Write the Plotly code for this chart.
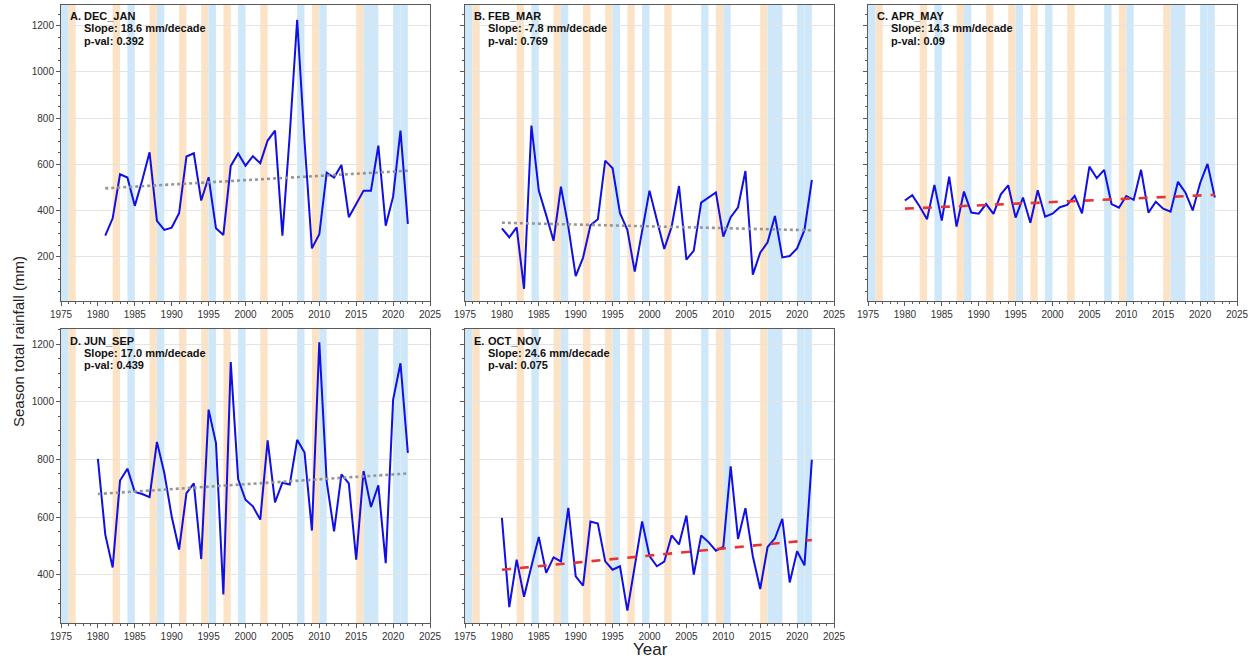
import plotly.graph_objects as go
from plotly.subplots import make_subplots

# ---------------- data ----------------
years_dj = list(range(1981, 2023))
years_all = list(range(1980, 2023))

dec_jan = [291, 366, 557, 543, 420, 530, 652, 355, 316, 326, 388, 634, 648, 443,
           544, 323, 294, 593, 647, 594, 635, 605, 703, 746, 291, 730, 1226, 700,
           236, 297, 564, 543, 597, 371, 428, 486, 486, 681, 334, 460, 746, 342]

feb_mar = [323, 284, 327, 61, 768, 486, 380, 269, 503, 330, 116, 196, 336, 362,
           616, 583, 388, 316, 135, 316, 486, 359, 233, 330, 506, 187, 226, 434,
           456, 478, 287, 371, 414, 571, 122, 217, 262, 376, 197, 203, 236, 316, 532]

apr_may = [443, 466, 417, 362, 511, 356, 547, 330, 482, 391, 386, 428, 385, 470,
           509, 369, 456, 347, 488, 373, 386, 414, 424, 463, 388, 590, 540, 576,
           428, 412, 463, 446, 576, 391, 438, 408, 395, 524, 478, 400, 518, 602, 456]

jun_sep = [802, 539, 425, 727, 768, 687, 680, 669, 861, 753, 602, 487, 683, 717,
           454, 973, 857, 331, 1138, 732, 660, 637, 591, 866, 651, 719, 713, 868,
           824, 553, 1207, 724, 550, 748, 717, 452, 760, 635, 710, 440, 1007, 1134, 823]

oct_nov = [597, 287, 452, 323, 429, 531, 406, 460, 446, 632, 394, 362, 584, 577,
           446, 417, 429, 275, 429, 585, 464, 429, 445, 536, 505, 605, 400, 536,
           513, 483, 496, 776, 524, 631, 464, 350, 496, 526, 594, 373, 481, 432, 799]

panel_letters = ["A.", "B.", "C.", "D.", "E."]
season_names = ["DEC_JAN", "FEB_MAR", "APR_MAY", "JUN_SEP", "OCT_NOV"]
slopes_per_decade = [18.6, -7.8, 14.3, 17.0, 24.6]
p_values = ["0.392", "0.769", "0.09", "0.439", "0.075"]
# fitted trend value (mm) at the first year of each record
trend_at_start = [496, 347, 408, 680, 417]

el_nino_years = [1976, 1982, 1987, 1991, 1994, 1997, 2002, 2009, 2015]
la_nina_years = [1975, 1984, 1988, 1995, 1999, 2007, 2010, 2016, 2017, 2020, 2021]

x_tick_vals = list(range(1975, 2030, 5))

# ---------------- styling ----------------
W, H = 1256, 659
FONT = "Liberation Sans, Arial, Helvetica, sans-serif"
LINE_BLUE = "rgb(15,15,230)"
TREND_GREY = "rgb(150,150,150)"
TREND_RED = "rgb(232,52,52)"
NINO_FILL = "rgb(253,227,198)"
NINA_FILL = "rgb(206,232,250)"
FRAME = "rgb(90,90,90)"

# panel rectangles in pixels: (left, right, top, bottom)
col_px = [(61, 430), (465, 834), (868, 1237)]
row_px = [(5, 301), (329, 623)]
y_ranges = [[8, 1290], [232, 1253]]

series = [(years_dj, dec_jan), (years_all, feb_mar), (years_all, apr_may),
          (years_all, jun_sep), (years_all, oct_nov)]
positions = [(0, 0), (0, 1), (0, 2), (1, 0), (1, 1)]

fig = make_subplots(rows=2, cols=3,
                    specs=[[{}, {}, {}], [{}, {}, None]])


def px_x(x):
    return x / W


def px_y(y):
    return 1 - y / H


annotations = []
shapes = []

for i, ((xs, ys), (r, c)) in enumerate(zip(series, positions)):
    ax_n = "" if i == 0 else str(i + 1)
    xref, yref = "x" + ax_n, "y" + ax_n

    # ENSO shading
    for yrs, col in ((el_nino_years, NINO_FILL), (la_nina_years, NINA_FILL)):
        for yr in yrs:
            shapes.append(dict(type="rect", xref=xref, yref=yref + " domain",
                               x0=yr, x1=yr + 1, y0=0, y1=1, layer="below",
                               fillcolor=col, line=dict(width=0)))

    # seasonal totals
    fig.add_trace(go.Scatter(x=xs, y=ys, mode="lines",
                             line=dict(color=LINE_BLUE, width=2),
                             showlegend=False), row=r + 1, col=c + 1)

    # linear trend (red dashed when p < 0.1)
    s = slopes_per_decade[i] / 10.0
    tx = [xs[0], xs[-1]]
    ty = [trend_at_start[i], trend_at_start[i] + s * (xs[-1] - xs[0])]
    significant = float(p_values[i]) < 0.1
    fig.add_trace(go.Scatter(
        x=tx, y=ty, mode="lines",
        line=dict(color=TREND_RED if significant else TREND_GREY,
                  width=2.6, dash="dash" if significant else "dot"),
        showlegend=False), row=r + 1, col=c + 1)

    left, right = col_px[c]
    top, bottom = row_px[r]
    domain_x = [px_x(left), px_x(right)]
    domain_y = [px_y(bottom), px_y(top)]

    xaxis = dict(domain=domain_x, range=[1975, 2025], tickmode="array",
                 tickvals=x_tick_vals, ticks="outside", ticklen=4,
                 tickcolor=FRAME, showgrid=False, zeroline=False,
                 showline=True, linecolor=FRAME, linewidth=1, mirror=True,
                 automargin=False,
                 tickfont=dict(size=10, color="#333", family=FONT),
                 minor=dict(tickmode="linear", tick0=1975, dtick=1,
                            ticks="outside", ticklen=2, tickcolor=FRAME))
    yaxis = dict(domain=domain_y, range=y_ranges[r], tick0=0, dtick=200,
                 ticks="outside", ticklen=4, tickcolor=FRAME,
                 showgrid=True, gridcolor="rgb(228,228,228)", gridwidth=1,
                 zeroline=False, showline=True, linecolor=FRAME, linewidth=1,
                 mirror=True, showticklabels=(c == 0), automargin=False,
                 tickfont=dict(size=10, color="#333", family=FONT),
                 minor=dict(tick0=0, dtick=50, ticks="outside", ticklen=2,
                            tickcolor=FRAME))
    fig.update_layout({"xaxis" + ax_n: xaxis, "yaxis" + ax_n: yaxis})

    # panel labels
    lines = [season_names[i],
             f"Slope: {slopes_per_decade[i]:.1f} mm/decade",
             f"p-val: {p_values[i]}"]
    offsets = [11.5, 23.5, 35.5]
    annotations.append(dict(x=px_x(left + 6.5), y=px_y(top + offsets[0]),
                            xref="paper", yref="paper", text="<b>" + panel_letters[i] + "</b>",
                            showarrow=False, xanchor="left", yanchor="middle",
                            font=dict(size=11, color="#111", family=FONT)))
    for line, off in zip(lines, offsets):
        annotations.append(dict(x=px_x(left + 21), y=px_y(top + off),
                                xref="paper", yref="paper", text="<b>" + line + "</b>",
                                showarrow=False, xanchor="left", yanchor="middle",
                                font=dict(size=11, color="#111", family=FONT)))

# shared axis titles
annotations.append(dict(x=px_x(18), y=px_y(342), xref="paper", yref="paper",
                        text="Season total rainfall (mm)", textangle=-90,
                        showarrow=False, xanchor="center", yanchor="middle",
                        font=dict(size=15, color="#222", family=FONT)))
annotations.append(dict(x=px_x(650), y=px_y(649), xref="paper", yref="paper",
                        text="Year", showarrow=False,
                        xanchor="center", yanchor="middle",
                        font=dict(size=17, color="#222", family=FONT)))

fig.update_layout(width=W, height=H,
                  margin=dict(l=0, r=0, t=0, b=0, pad=0, autoexpand=False),
                  paper_bgcolor="white", plot_bgcolor="white",
                  shapes=shapes, annotations=annotations,
                  font=dict(family=FONT))

fig.write_html("out.html")
